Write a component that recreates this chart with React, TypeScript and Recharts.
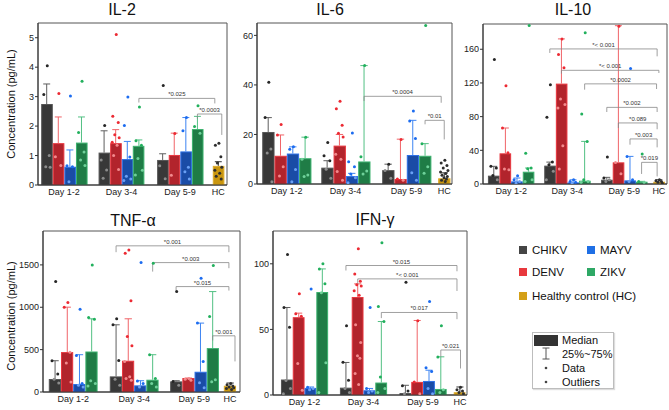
import React from 'react';
import { ComposedChart, Bar, Scatter, XAxis, YAxis, ReferenceLine, ReferenceArea } from 'recharts';

const FONT = '"Liberation Sans", Arial, Helvetica, sans-serif';

const GROUPS = ['Day 1-2', 'Day 3-4', 'Day 5-9'];
const SERIES = ['CHIKV', 'DENV', 'MAYV', 'ZIKV'];

type Style = { fill: string; edge: string; whisker: string; dot: string; dotIn: string; legend: string };
const COLORS: Record<string, Style> = {
  CHIKV: { fill: '#383838', edge: '#555555', whisker: '#5e5e5e', dot: '#262626', dotIn: '#8c8c8c', legend: '#454545' },
  DENV: { fill: '#b2242c', edge: '#e8363e', whisker: '#f06468', dot: '#ec2a33', dotIn: '#f38a8d', legend: '#e8383d' },
  MAYV: { fill: '#1a4ca6', edge: '#2c6fe6', whisker: '#3d84f2', dot: '#1c6cf0', dotIn: '#6aa0f5', legend: '#1f6fe5' },
  ZIKV: { fill: '#1f7c46', edge: '#3bb26e', whisker: '#52c083', dot: '#22b05d', dotIn: '#6fd19a', legend: '#2ea865' },
  HC: { fill: '#c9960f', edge: '#dcaa2a', whisker: '#333333', dot: '#2e2e2e', dotIn: '#2e2e2e', legend: '#d4a017' },
};

// horizontal spread of the individual values inside a bar (in bar widths)
const JITTER = [0.05, -0.25, 0.22, -0.08, 0.3, -0.3, 0.12, -0.18, 0.25, -0.02, 0.18, -0.22, 0.08];

type Bracket = { from: [number, number]; y: number; yL: number; yR: number; label: string; end?: number };

// ---------- IL-2 ----------
const il2Median = [[2.75, 1.42, 0.62, 1.44], [1.1, 1.42, 0.88, 1.33], [0.85, 1.02, 1.14, 1.9]];
const il2Q75 = [[3.43, 2.31, 1.19, 2.31], [1.84, 1.88, 1.48, 1.53], [1.06, 1.76, 2.29, 2.33]];
const il2HC = [0.65, 0.79];
const il2Points = [
  [[4.05, 3.07, 1.0, 0.62, 0.6], [3.11, 0.96, 0.66], [3.02, 0.65, 0.62, 0.11], [3.52, 1.78, 1.12, 0.85, 0.66]],
  [[2.02, 0.85, 0.51, 0.23], [5.11, 2.33, 2.12, 1.71, 1.6, 1.45, 1.35, 1.0, 0.53], [2.99, 2.02, 0.95, 0.3, 0.2, 0.15], [2.65, 1.5, 1.35, 0.9, 0.5, 0.34]],
  [[3.38, 0.65, 0.21], [1.75, 0.33], [2.29, 1.84, 0.6, 0.45, 0.2], [2.69, 1.99, 1.76]],
];
const il2HCPoints = [1.42, 1.35, 0.96, 0.75, 0.6, 0.5, 0.4, 0.3, 0.2];
const il2Brackets: Bracket[] = [
  { from: [1, 3], y: 2.94, yL: 2.8, yR: 2.77, label: '*0.025', end: -0.3 },
  { from: [2, 3], y: 2.41, yL: 2.25, yR: 1.7, label: '*0.0003', end: 0.3 },
];
const il2Ticks = [0, 1, 2, 3, 4, 5];

// ---------- IL-6 ----------
const il6Median = [[21.0, 11.4, 12.3, 10.4], [6.6, 15.5, 3.2, 9.1], [5.6, 2.0, 11.7, 11.4]];
const il6Q75 = [[26.8, 19.8, 15.0, 18.9], [9.4, 20.0, 4.3, 47.8], [8.0, 18.1, 25.7, 16.3]];
const il6HC = [2.3, 4.5];
const il6Points = [
  [[41.1, 26.8, 14.1, 12.5, 0.9], [24.0, 19.8, 7.0, 3.2], [15.0, 14.0, 5.9, 0.9], [18.9, 10.0, 3.6, 3.0]],
  [[16.8, 11.4, 9.4, 6.0, 2.3], [33.4, 30.4, 23.7, 20.5, 19.0, 12.0, 10.0, 5.0, 1.5], [20.6, 9.0, 7.0, 4.0, 2.5, 0.5], [47.8, 11.0, 5.2, 4.0]],
  [[8.0, 5.5, 2.3], [18.0, 2.0, 1.5], [29.5, 25.4, 18.4, 4.5, 1.5], [64.0, 16.3, 7.0, 4.3]],
];
const il6HCPoints = [9.6, 8.5, 7.5, 6.5, 5.5, 4.8, 4.2, 3.5, 3.0, 2.5, 2.0, 1.5, 1.0];
const il6Brackets: Bracket[] = [
  { from: [1, 3], y: 35.4, yL: 33.5, yR: 32.8, label: '*0.0004', end: -0.25 },
  { from: [2, 3], y: 25.7, yL: 24.1, yR: 18.0, label: '*0.01', end: 0 },
];
const il6Ticks = [0, 20, 40, 60];

// ---------- IL-10 ----------
const il10Median = [[9.9, 36.4, 3.1, 14.6], [21.8, 119.2, 1.9, 3.9], [5.1, 25.7, 4.3, 2.7]];
const il10Q75 = [[21, 66.5, 7.1, 19], [26, 172.3, 5, 50.6], [7.9, 188, 32.8, 3.1]];
const il10HC = [2.7, 5.1];
const il10Points = [
  [[147.7, 21, 19, 10, 5], [116.8, 66.5, 37, 17.8, 17], [9.9, 5, 3, 1], [188.2, 36.4, 19, 18, 5, 3]],
  [[118, 79.2, 26, 23, 15, 5], [172.3, 153.7, 137.9, 101, 94.3, 90.3, 45.5, 17.8], [5, 3, 2, 1], [179.5, 83.2, 50.6, 5, 3, 2]],
  [[32.1, 7, 5, 3], [187.3, 25.5, 12.2], [137.1, 32.8, 5, 3], [35.7, 3, 2]],
];
const il10HCPoints = [5, 4, 3, 2, 1];
const il10Brackets: Bracket[] = [
  { from: [1, 0], y: 160.4, yL: 155.6, yR: 151.6, label: '*< 0.001', end: -0.15 },
  { from: [1, 1], y: 135, yL: 131, yR: 131.8, label: '*< 0.001', end: 0 },
  { from: [1, 3], y: 118.9, yL: 112, yR: 112.8, label: '*0.0002', end: -0.2 },
  { from: [2, 0], y: 91, yL: 85.5, yR: 85.5, label: '*0.002', end: -0.15 },
  { from: [2, 1], y: 72.5, yL: 66.5, yR: 65, label: '*0.089', end: -0.15 },
  { from: [2, 2], y: 53.5, yL: 46.7, yR: 43.5, label: '*0.003', end: -0.15 },
  { from: [2, 3], y: 25.7, yL: 11.9, yR: 9.0, label: '*0.019', end: -0.15 },
];
const il10Ticks = [0, 40, 80, 120, 160];

// ---------- TNF-α ----------
const tnfMedian = [[153, 471, 94, 478], [184, 369, 78, 145], [125, 165, 239, 518]];
const tnfQ75 = [[369, 1001, 440, 864], [793, 864, 133, 440], [133, 165, 813, 1185]];
const tnfHC = [74, 106];
const tnfPoints = [
  [[1303, 369, 212, 150, 106], [1056, 1001, 470, 342, 118], [978, 430, 100, 80, 60], [1500, 879, 860, 133, 100, 70]],
  [[864, 793, 371, 150, 80], [1677, 1638, 1076, 655, 545, 360, 180, 160, 140], [1527, 130, 100, 60], [1520, 440, 160, 100, 60]],
  [[1185, 125, 80], [160, 150, 140], [1343, 813, 361, 110, 50], [1492, 891, 145, 120]],
];
const tnfHCPoints = [100, 85, 70, 60, 50, 40, 30];
const tnfBrackets: Bracket[] = [
  { from: [1, 0], y: 1725, yL: 1650, yR: 1650, label: '*0.001', end: -0.1 },
  { from: [1, 3], y: 1527, yL: 1421, yR: 1461, label: '*0.003', end: -0.1 },
  { from: [2, 0], y: 1244, yL: 1197, yR: 1197, label: '*0.015', end: -0.1 },
  { from: [2, 3], y: 663, yL: 608, yR: 361, label: '*0.001', end: 0.4 },
];
const tnfTicks = [0, 500, 1000, 1500];

// ---------- IFN-γ ----------
const ifnMedian = [[11.8, 59.3, 5.4, 78.5], [5.6, 74.7, 3.6, 9.5], [1.5, 10, 10.7, 4.6]];
const ifnQ75 = [[66.7, 62.4, 6.1, 96.1], [24.8, 84.7, 5, 56], [7.4, 56.8, 18.9, 29.1]];
const ifnHC = [2.1, 6.1];
const ifnPoints = [
  [[107.1, 66.7, 51.7, 11, 5, 1], [77.2, 62, 60, 24.1, 3.6], [80.8, 6, 5, 4], [100, 96, 84.7, 78, 24.5, 2]],
  [[52.7, 25, 11.3, 5, 2], [111.5, 92.3, 86.7, 84, 83, 79.5, 76, 53.5, 40, 29.9, 28, 16.4, 8], [66.7, 5, 3, 2], [116.1, 67.5, 56, 13.8, 5, 2]],
  [[86, 7, 3, 1], [56.5, 10, 1], [71.3, 20.7, 18, 5, 1], [52.7, 29, 4, 2]],
];
const ifnHCPoints = [6, 4, 3, 2, 1];
const ifnBrackets: Bracket[] = [
  { from: [1, 0], y: 98.7, yL: 94.9, yR: 94.3, label: '*0.015', end: -0.25 },
  { from: [1, 1], y: 88.5, yL: 84.7, yR: 79.3, label: '*< 0.001', end: -0.25 },
  { from: [1, 3], y: 62.9, yL: 58.6, yR: 57.8, label: '*0.017', end: -0.25 },
  { from: [2, 3], y: 34.3, yL: 29.1, yR: 20.2, label: '*0.021', end: 0.05 },
];
const ifnTicks = [0, 50, 100];

type PanelDef = {
  title: string;
  median: number[][];
  q75: number[][];
  hc: number[];
  points: number[][][];
  hcPoints: number[];
  brackets: Bracket[];
  yTicks: number[];
};

type Layout = {
  left: number; top: number; width: number; height: number;
  yMax: number; xMax: number; starts: number[]; axisW: number;
  titleX: number; titleTop: number; yLabelY?: number;
};

const PANELS: { def: PanelDef; lay: Layout }[] = [
  {
    def: { title: 'IL-2', median: il2Median, q75: il2Q75, hc: il2HC, points: il2Points, hcPoints: il2HCPoints, brackets: il2Brackets, yTicks: il2Ticks },
    lay: { left: 38, top: 23, width: 189, height: 162, yMax: 5.5, xMax: 16.3, starts: [0.25, 5.2, 10.25, 15.05], axisW: 38, titleX: 122, titleTop: 2, yLabelY: 104 },
  },
  {
    def: { title: 'IL-6', median: il6Median, q75: il6Q75, hc: il6HC, points: il6Points, hcPoints: il6HCPoints, brackets: il6Brackets, yTicks: il6Ticks },
    lay: { left: 257, top: 23, width: 195, height: 161, yMax: 65, xMax: 15.85, starts: [0.41, 5.2, 10.16, 14.72], axisW: 28, titleX: 330, titleTop: 2 },
  },
  {
    def: { title: 'IL-10', median: il10Median, q75: il10Q75, hc: il10HC, points: il10Points, hcPoints: il10HCPoints, brackets: il10Brackets, yTicks: il10Ticks },
    lay: { left: 483, top: 24, width: 184, height: 160, yMax: 190, xMax: 15.86, starts: [0.43, 5.26, 10.17, 14.66], axisW: 28, titleX: 573, titleTop: 2 },
  },
  {
    def: { title: 'TNF-α', median: tnfMedian, q75: tnfQ75, hc: tnfHC, points: tnfPoints, hcPoints: tnfHCPoints, brackets: tnfBrackets, yTicks: tnfTicks },
    lay: { left: 43, top: 231, width: 197, height: 161, yMax: 1900, xMax: 16.15, starts: [0.49, 5.49, 10.41, 14.84], axisW: 43, titleX: 133, titleTop: 212.5, yLabelY: 316 },
  },
  {
    def: { title: 'IFN-γ', median: ifnMedian, q75: ifnQ75, hc: ifnHC, points: ifnPoints, hcPoints: ifnHCPoints, brackets: ifnBrackets, yTicks: ifnTicks },
    lay: { left: 273, top: 231, width: 194, height: 164, yMax: 125, xMax: 16.44, starts: [0.68, 5.68, 10.72, 15.34], axisW: 30, titleX: 375, titleTop: 212 },
  },
];

const XH = 16;
const PAD_T = 1;
const PAD_R = 2;
const SLOT = 0.05; // band resolution of the hidden bar axis, in bar widths

const Dot = (p: any) => {
  if (p.cx == null || p.cy == null) return null;
  return <circle cx={p.cx} cy={p.cy} r={1.5} fill={p.payload.color} />;
};

// bar body: dark fill with a lighter outline in the series hue, centred on its band
const makeBarBody = (barPx: number) => (p: any) => {
  const { x, y, width, height, payload } = p;
  if (!payload || !payload.key || x == null || y == null || !isFinite(y) || !isFinite(height)) return null;
  const c = COLORS[payload.key];
  const cx = x + width / 2;
  return (
    <rect
      x={cx - barPx / 2 + 0.5}
      y={y + 0.5}
      width={barPx - 1}
      height={Math.max(height - 0.5, 0)}
      fill={c.fill}
      stroke={c.edge}
      strokeWidth={1}
    />
  );
};

function Panel({ def, lay }: { def: PanelDef; lay: Layout }) {
  const barPx = lay.width / lay.xMax;
  const center = (g: number, s: number) => lay.starts[g] + s + 0.5;
  const hcX = lay.starts[3] + 0.5;

  const rows: { x: number; median: number; q75: number; key: string }[] = [];
  def.median.forEach((grp, g) =>
    grp.forEach((m, s) => rows.push({ x: center(g, s), median: m, q75: def.q75[g][s], key: SERIES[s] })),
  );
  rows.push({ x: hcX, median: def.hc[0], q75: def.hc[1], key: 'HC' });

  // the bars sit on a fine categorical band axis laid over the same plot width
  const nSlots = Math.round(lay.xMax / SLOT);
  const slotW = lay.xMax / nSlots;
  const slotRows: any[] = Array.from({ length: nSlots }, (_, i) => ({ slot: i }));
  rows.forEach((r) => {
    const i = Math.round(r.x / slotW - 0.5);
    slotRows[i] = { slot: i, median: r.median, key: r.key };
  });

  const pts: { x: number; y: number; color: string }[] = [];
  def.points.forEach((grp, g) =>
    grp.forEach((vals, s) => {
      const c = COLORS[SERIES[s]];
      vals.forEach((v, i) =>
        pts.push({ x: center(g, s) + JITTER[i % JITTER.length], y: v, color: v < def.median[g][s] ? c.dotIn : c.dot }),
      );
    }),
  );
  def.hcPoints.forEach((v, i) => pts.push({ x: hcX + JITTER[i % JITTER.length], y: v, color: COLORS.HC.dot }));

  const tickX = [lay.starts[0] + 2, lay.starts[1] + 2, lay.starts[2] + 2, hcX];
  const tickLabels = [...GROUPS, 'HC'];

  return (
    <div style={{ position: 'absolute', left: lay.left - lay.axisW, top: lay.top - PAD_T }}>
      <ComposedChart
        width={lay.axisW + lay.width + PAD_R}
        height={lay.height + XH + PAD_T}
        data={slotRows}
        barCategoryGap={0}
        margin={{ top: PAD_T, right: PAD_R, bottom: 0, left: 0 }}
      >
        <XAxis
          type="number"
          dataKey="x"
          domain={[0, lay.xMax]}
          allowDataOverflow
          ticks={tickX}
          interval={0}
          tickFormatter={(v: number) => tickLabels[tickX.indexOf(v)] ?? ''}
          tickLine={false}
          tickSize={2}
          tickMargin={2}
          axisLine={{ stroke: '#333' }}
          height={XH}
          tick={{ fontSize: 9, fill: '#222', fontFamily: FONT }}
        />
        <XAxis xAxisId="band" type="category" dataKey="slot" hide />
        <YAxis
          type="number"
          domain={[0, lay.yMax]}
          allowDataOverflow
          ticks={def.yTicks}
          interval={0}
          width={lay.axisW}
          tickSize={3}
          tickMargin={1}
          axisLine={{ stroke: '#333' }}
          tickLine={{ stroke: '#333' }}
          tick={{ fontSize: 9, fill: '#222', fontFamily: FONT }}
        />
        <ReferenceArea x1={0} x2={lay.xMax} y1={0} y2={lay.yMax} fill="none" stroke="#555" strokeWidth={1} ifOverflow="visible" />
        <Bar xAxisId="band" dataKey="median" isAnimationActive={false} shape={makeBarBody(barPx)} />
        {rows.map((r, i) => (
          <ReferenceLine
            key={`w${i}`}
            segment={[{ x: r.x, y: r.median }, { x: r.x, y: r.q75 }]}
            stroke={COLORS[r.key].whisker}
            strokeWidth={1}
            ifOverflow="visible"
          />
        ))}
        {rows.map((r, i) => (
          <ReferenceLine
            key={`c${i}`}
            segment={[{ x: r.x - 0.3, y: r.q75 }, { x: r.x + 0.3, y: r.q75 }]}
            stroke={COLORS[r.key].whisker}
            strokeWidth={1}
            ifOverflow="visible"
          />
        ))}
        {def.brackets.map((b, i) => {
          const x1 = center(b.from[0], b.from[1]);
          const x2 = hcX + (b.end ?? 0);
          return (
            <React.Fragment key={`b${i}`}>
              <ReferenceLine
                segment={[{ x: x1, y: b.y }, { x: x2, y: b.y }]}
                stroke="#888"
                strokeWidth={0.8}
                ifOverflow="visible"
                label={{ value: b.label, position: 'top', offset: 2, fontSize: 6, fill: '#333', fontFamily: FONT }}
              />
              <ReferenceLine segment={[{ x: x1, y: b.y }, { x: x1, y: b.yL }]} stroke="#888" strokeWidth={0.8} ifOverflow="visible" />
              <ReferenceLine segment={[{ x: x2, y: b.y }, { x: x2, y: b.yR }]} stroke="#888" strokeWidth={0.8} ifOverflow="visible" />
            </React.Fragment>
          );
        })}
        <Scatter data={pts} dataKey="y" isAnimationActive={false} shape={Dot} />
      </ComposedChart>
    </div>
  );
}

const LEGEND_ITEMS = [
  { key: 'CHIKV', label: 'CHIKV', x: 519, y: 250 },
  { key: 'MAYV', label: 'MAYV', x: 587, y: 250 },
  { key: 'DENV', label: 'DENV', x: 519, y: 272 },
  { key: 'ZIKV', label: 'ZIKV', x: 587, y: 272 },
  { key: 'HC', label: 'Healthy control (HC)', x: 519, y: 296 },
];

export default function App() {
  return (
    <div style={{ position: 'absolute', left: 0, top: 0, width: 669, height: 410, background: '#fff', fontFamily: FONT, overflow: 'hidden' }}>
      {PANELS.map((p, i) => (
        <React.Fragment key={i}>
          <div
            style={{
              position: 'absolute', left: p.lay.titleX - 60, width: 120, top: p.lay.titleTop,
              textAlign: 'center', fontSize: 16, lineHeight: '16px', color: '#111',
            }}
          >
            {p.def.title}
          </div>
          {p.lay.yLabelY != null && (
            <div
              style={{
                position: 'absolute', left: 11 - 70, top: p.lay.yLabelY - 7, width: 140, height: 14,
                lineHeight: '14px', fontSize: 11, textAlign: 'center', color: '#111',
                transform: 'rotate(-90deg)', transformOrigin: '50% 50%', whiteSpace: 'nowrap',
              }}
            >
              Concentration (pg/mL)
            </div>
          )}
          <Panel def={p.def} lay={p.lay} />
        </React.Fragment>
      ))}

      {LEGEND_ITEMS.map((it) => (
        <div key={it.key} style={{ position: 'absolute', left: it.x, top: it.y - 8, height: 16, display: 'flex', alignItems: 'center', whiteSpace: 'nowrap' }}>
          <span style={{ display: 'inline-block', width: 8, height: 8, background: COLORS[it.key].legend, marginRight: 5 }} />
          <span style={{ fontSize: 11.5, color: '#111' }}>{it.label}</span>
        </div>
      ))}

      <div style={{ position: 'absolute', left: 532, top: 332, width: 82, height: 57, border: '1px solid #bdbdbd', boxShadow: '1px 1px 1px #ddd', boxSizing: 'border-box' }} />
      <div style={{ position: 'absolute', left: 534, top: 335, width: 24, height: 11, background: '#333' }} />
      <svg style={{ position: 'absolute', left: 540, top: 347 }} width={12} height={13}>
        <line x1={6} y1={1} x2={6} y2={12} stroke="#555" strokeWidth={1} />
        <line x1={2.5} y1={1} x2={9.5} y2={1} stroke="#555" strokeWidth={1} />
        <line x1={2.5} y1={12} x2={9.5} y2={12} stroke="#555" strokeWidth={1} />
      </svg>
      <svg style={{ position: 'absolute', left: 543, top: 365 }} width={6} height={20}>
        <circle cx={3} cy={3} r={1.3} fill="#444" />
        <circle cx={3} cy={17} r={1.3} fill="#444" />
      </svg>
      {[
        { t: 'Median', y: 340 },
        { t: '25%~75%', y: 354 },
        { t: 'Data', y: 368 },
        { t: 'Outliers', y: 382 },
      ].map((r) => (
        <div key={r.t} style={{ position: 'absolute', left: 562, top: r.y - 7, height: 14, lineHeight: '14px', fontSize: 11, color: '#111', whiteSpace: 'nowrap' }}>
          {r.t}
        </div>
      ))}
    </div>
  );
}
